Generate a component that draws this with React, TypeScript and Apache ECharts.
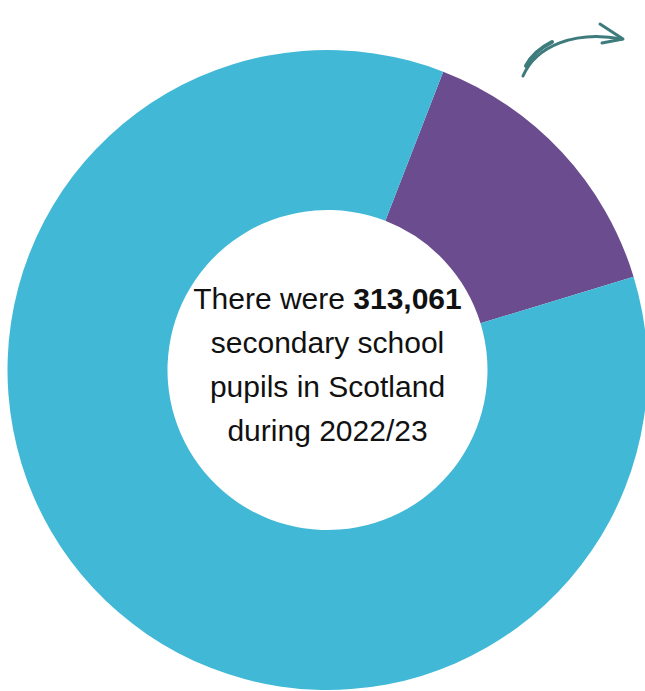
import React, { useEffect, useRef } from "react";
import * as echarts from "echarts";

const segmentNames = ["Highlighted pupils", "Other pupils"];
const segmentValues = [14.4, 85.6];
const segmentColors = ["#6a4c8f", "#41b8d6"];
const totalPupils = "313,061";
const centerLines = ["secondary school", "pupils in Scotland", "during 2022/23"];

export default function App() {
  const ref = useRef<HTMLDivElement>(null);
  useEffect(() => {
    document.body.style.margin = "0";
    const chart = echarts.init(ref.current!, null, { renderer: "svg" });
    const text =
      "There were {b|" + totalPupils + "}\n" + centerLines.join("\n");
    const font = "'Liberation Sans'";
    chart.setOption({
      animation: false,
      series: [
        {
          type: "pie",
          center: [327.5, 370],
          radius: [160, 320],
          startAngle: 68.8,
          clockwise: true,
          silent: true,
          label: { show: false },
          labelLine: { show: false },
          emphasis: { disabled: true },
          data: segmentNames.map((n, i) => ({
            name: n,
            value: segmentValues[i],
            itemStyle: { color: segmentColors[i] },
          })),
        },
      ],
      graphic: [
        {
          type: "text",
          x: 327.5,
          y: 364,
          style: {
            text,
            align: "center",
            verticalAlign: "middle",
            fontFamily: font,
            fontSize: 30,
            lineHeight: 44,
            fill: "#111",
            rich: {
              b: {
                fontFamily: font,
                fontSize: 30,
                fontWeight: "bold",
                lineHeight: 44,
                fill: "#111",
              },
            },
          },
        },
        {
          type: "bezierCurve",
          shape: { x1: 523, y1: 76, cpx1: 536, cpx2: 575, cpy1: 46, cpy2: 30, x2: 622, y2: 39 },
          style: { stroke: "#3e7b7c", lineWidth: 3, fill: null, lineCap: "round" },
        },
        {
          type: "bezierCurve",
          shape: { x1: 526, y1: 66, cpx1: 531, cpx2: 540, cpy1: 56, cpy2: 48, x2: 552, y2: 42 },
          style: { stroke: "#3e7b7c", lineWidth: 4, fill: null, lineCap: "round" },
        },
        {
          type: "polyline",
          shape: { points: [[600, 24], [623, 39], [602, 43]] },
          style: { stroke: "#3e7b7c", lineWidth: 3, fill: null, lineCap: "round", lineJoin: "round" },
        },
      ],
    });
    return () => chart.dispose();
  }, []);
  return <div ref={ref} style={{ width: 645, height: 691 }} />;
}
